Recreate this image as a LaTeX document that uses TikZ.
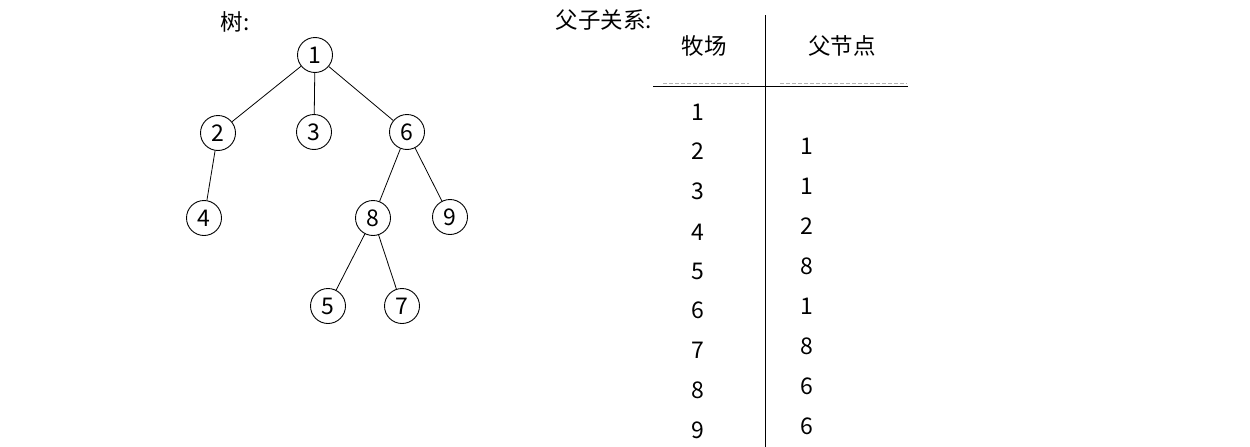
\documentclass[tikz,border=0pt]{standalone}
\usepackage{fontspec}
\setmainfont{Noto Sans CJK SC}
\begin{document}
\begin{tikzpicture}[x=1pt,y=-1pt,
  treenode/.style={circle,draw,line width=0.9pt,minimum size=35pt,inner sep=0pt,font=\fontsize{23}{26}\selectfont},
  edge/.style={line width=0.8pt},
  lbl/.style={font=\fontsize{22.5}{26}\selectfont,inner sep=0pt},
  num/.style={font=\fontsize{23}{26}\selectfont,inner sep=0pt},
  rule/.style={line width=1pt},
  dashrule/.style={line width=1pt,gray!60,dash pattern=on 4pt off 2pt}]
\useasboundingbox (0,0) rectangle (1250,447);
% titles
\node[lbl] (ttree) at (235,22) {树:};
\node[lbl] (trel) at (604,20) {父子关系:};
% tree
\node[treenode] (n1) at (315,55) {1};
\node[treenode] (n2) at (218,133) {2};
\node[treenode] (n3) at (314,132) {3};
\node[treenode] (n6) at (407,132) {6};
\node[treenode] (n4) at (204,218) {4};
\node[treenode] (n8) at (373,218) {8};
\node[treenode] (n9) at (450,217) {9};
\node[treenode] (n5) at (328,306) {5};
\node[treenode] (n7) at (402,306) {7};
\draw[edge] (n1) -- (n2);
\draw[edge] (n1) -- (n3);
\draw[edge] (n1) -- (n6);
\draw[edge] (n2) -- (n4);
\draw[edge] (n6) -- (n8);
\draw[edge] (n6) -- (n9);
\draw[edge] (n8) -- (n5);
\draw[edge] (n8) -- (n7);
% table
\coordinate (vtop) at (765,15);
\coordinate (vbot) at (765,447);
\coordinate (hl) at (653,86);
\coordinate (hr) at (908,86);
\coordinate (dl1) at (663,83.5);
\coordinate (dr1) at (749,83.5);
\coordinate (dl2) at (780,83.5);
\coordinate (dr2) at (907,83.5);
\draw[dashrule] (dl1) -- (dr1);
\draw[dashrule] (dl2) -- (dr2);
\draw[rule] (vtop) -- (vbot);
\draw[rule] (hl) -- (hr);
\node[lbl] (h1) at (704,46) {牧场};
\node[lbl] (h2) at (842,46) {父节点};
\foreach \v/\y [count=\i] in {1/112,2/151,3/191,4/232,5/271,6/310,7/350,8/390,9/430}
  \node[num] (c1r\i) at (698,\y) {\v};
\foreach \v/\y [count=\i] in {1/146,1/186,2/226,8/266,1/306,8/346,6/386,6/426}
  \node[num] (c2r\i) at (807,\y) {\v};
\end{tikzpicture}
\end{document}
